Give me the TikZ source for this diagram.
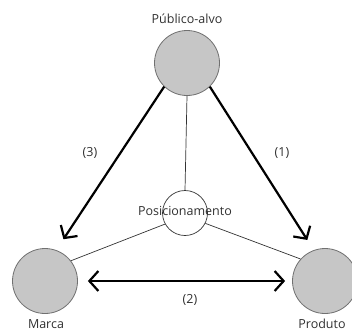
\documentclass[tikz,border=0pt]{standalone}
\usepackage{fontspec}
\setmainfont{Open Sans}
\usetikzlibrary{arrows.meta}
\definecolor{circfill}{HTML}{C6C6C6}
\definecolor{circline}{HTML}{707070}
\definecolor{txt}{HTML}{303030}
\begin{document}
\begin{tikzpicture}[x=1pt,y=-1pt,
  bigcirc/.style={circle,draw=circline,line width=0.8pt,fill=circfill,minimum size=65pt,inner sep=0pt},
  poscirc/.style={circle,draw=black!80,line width=0.7pt,fill=white,minimum size=45pt,inner sep=0pt},
  lbl/.style={font=\fontsize{12.5}{14}\selectfont,text=txt,inner sep=0pt},
  thin/.style={line width=0.7pt,draw=black!80},
  arr/.style={line width=2.2pt,-{Straight Barb[length=9pt,width=20pt,line width=2.2pt]}},
  darr/.style={line width=2.2pt,{Straight Barb[length=9pt,width=20pt,line width=2.2pt]}-{Straight Barb[length=9pt,width=20pt,line width=2.2pt]}}]
\useasboundingbox (0,0) rectangle (352,333);
\node[bigcirc] (pa) at (187,63) {};
\node[bigcirc] (marca) at (45,281) {};
\node[bigcirc] (prod) at (325,281) {};
\node[poscirc] (pos) at (185,213) {};
% thin lines
\draw[thin] (pa.south) -- (pos.north);
\draw[thin] (marca.38) -- (pos.209);
\draw[thin] (prod.138) -- (pos.333);
% arrows
\draw[arr,shorten >=13pt] (pa.226) -- (marca.70);
\draw[arr,shorten >=12pt] (pa.314) -- (prod.110);
\draw[darr,shorten <=10pt,shorten >=7pt] (marca.east) -- (prod.west);
% labels
\node[lbl] (lpa) at (187,19) {Público-alvo};
\node[lbl] (lpos) at (185,211) {Posicionamento};
\node[lbl] (lmarca) at (46,324) {Marca};
\node[lbl] (lprod) at (322,324) {Produto};
\node[lbl] (l3) at (90,153) {(3)};
\node[lbl] (l1) at (282,153) {(1)};
\node[lbl] (l2) at (190,300) {(2)};
\end{tikzpicture}
\end{document}
